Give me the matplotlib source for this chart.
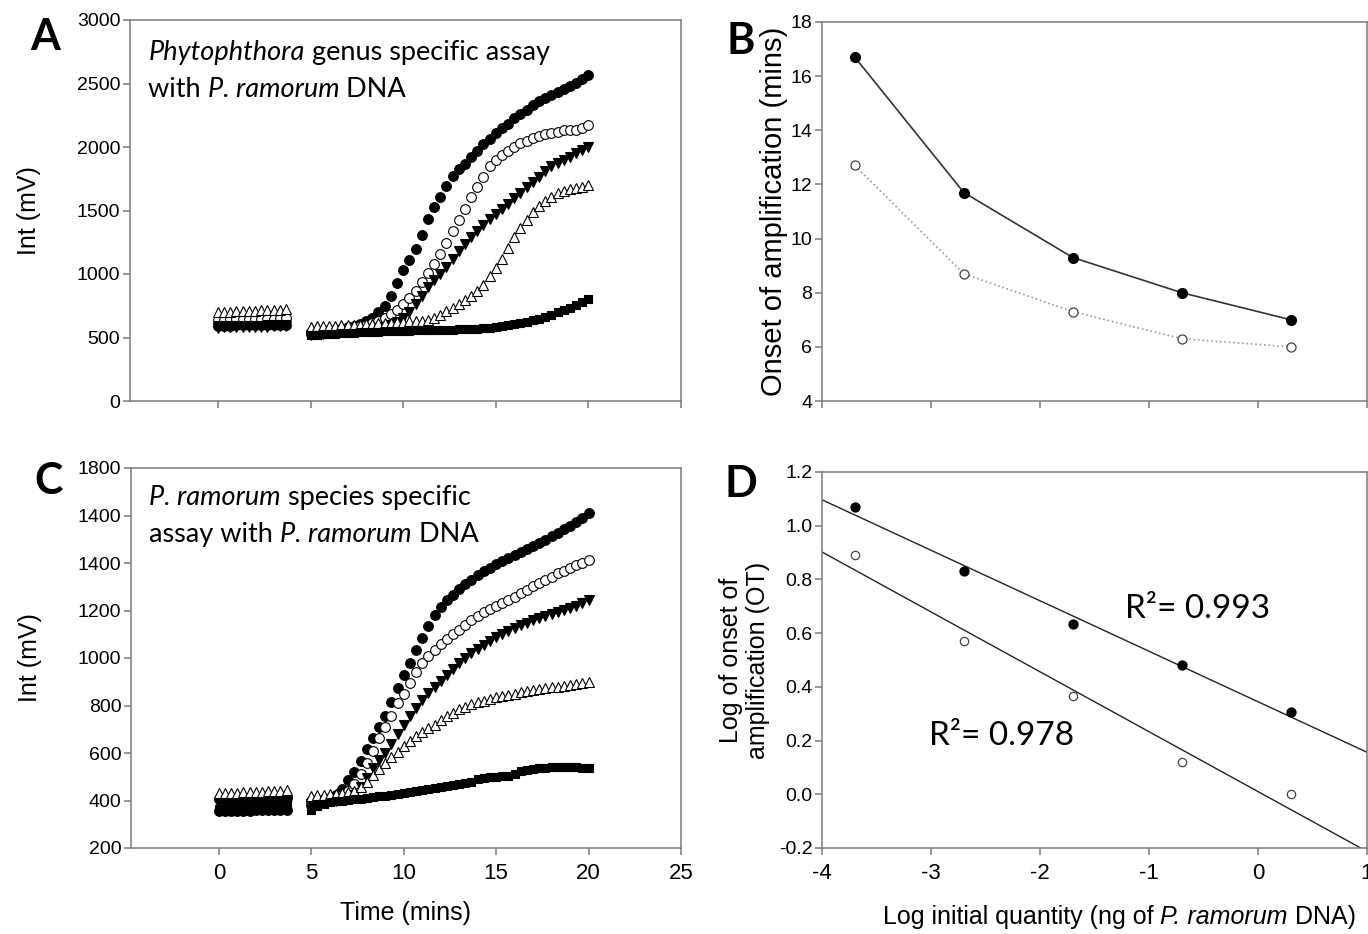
import numpy as np
import matplotlib
matplotlib.use("Agg")
import matplotlib.pyplot as plt
import matplotlib.transforms as mtransforms

plt.rcParams['font.family'] = ['Liberation Sans Narrow', 'Liberation Sans', 'DejaVu Sans']
NOTE_FONT = ['Lato', 'DejaVu Sans']

# sampling times (mins): pre-read block and main run, one reading every 20 s
t_pre = np.arange(12) / 3.0
t_run = 5 + np.arange(46) / 3.0

# ---- panel A: Phytophthora genus assay (mV) ----
a_pre_fc = [590, 592, 594, 595, 596, 597, 598, 599, 600, 600, 601, 602]
a_pre_oc = [640, 641, 642, 643, 644, 645, 646, 647, 648, 649, 650, 650]
a_pre_dt = [578, 579, 580, 581, 582, 583, 584, 585, 586, 587, 588, 589]
a_pre_ut = [700, 702, 704, 706, 708, 710, 712, 714, 716, 718, 720, 722]
a_pre_sq = [595, 596, 597, 598, 599, 600, 601, 602, 603, 604, 605, 606]

a_fc = [525, 530, 540, 550, 560, 570, 580, 590, 610, 630, 655, 700, 750, 830, 930, 1030,
        1110, 1200, 1310, 1430, 1525, 1610, 1690, 1770, 1830, 1870, 1920, 1970, 2020, 2065,
        2110, 2150, 2185, 2225, 2260, 2295, 2330, 2360, 2385, 2410, 2430, 2455, 2480, 2505,
        2535, 2565]
a_oc = [545, 548, 552, 556, 560, 565, 570, 578, 588, 598, 612, 630, 655, 685, 720, 760,
        810, 870, 940, 1005, 1080, 1160, 1245, 1335, 1425, 1515, 1605, 1685, 1765, 1850,
        1900, 1937, 1970, 2000, 2028, 2050, 2070, 2085, 2100, 2112, 2122, 2130, 2132, 2135,
        2150, 2172]
a_dt = [520, 524, 528, 532, 536, 540, 545, 550, 555, 560, 567, 575, 585, 600, 625, 655,
        700, 760, 830, 895, 955, 1000, 1055, 1115, 1180, 1235, 1290, 1340, 1385, 1430,
        1470, 1510, 1555, 1600, 1640, 1685, 1725, 1765, 1810, 1850, 1875, 1900, 1925, 1950,
        1975, 2000]
a_ut = [585, 588, 590, 592, 594, 596, 598, 600, 602, 605, 608, 611, 614, 617, 620, 623,
        626, 629, 632, 640, 655, 680, 705, 735, 765, 795, 830, 865, 915, 985,
        1050, 1115, 1205, 1290, 1360, 1425, 1485, 1535, 1575, 1610, 1640, 1655, 1668, 1678,
        1688, 1697]
a_sq = [520, 523, 526, 529, 531, 534, 536, 538, 540, 542, 544, 546, 548, 550, 552, 553,
        555, 556, 557, 558, 559, 560, 561, 562, 563, 565, 567, 570, 573, 577,
        582, 588, 595, 603, 612, 622, 635, 648, 663, 680, 697, 715, 735, 755,
        778, 800]

# ---- panel C: P. ramorum species assay (mV) ----
c_pre_fc = [355, 355, 356, 356, 357, 357, 358, 358, 359, 359, 360, 360]
c_pre_oc = [405, 405, 406, 406, 407, 407, 408, 408, 409, 409, 410, 410]
c_pre_dt = [385, 386, 387, 388, 389, 390, 391, 392, 393, 394, 395, 396]
c_pre_ut = [430, 431, 432, 433, 434, 435, 436, 437, 438, 440, 442, 445]
c_pre_sq = [365, 366, 367, 368, 369, 370, 371, 372, 373, 380, 385, 390]

c_fc = [380, 390, 400, 410, 425, 450, 485, 520, 565, 615, 665, 710, 755, 815, 875, 930,
        980, 1035, 1085, 1135, 1180, 1215, 1245, 1265, 1290, 1310, 1330, 1348, 1365, 1380,
        1395, 1408, 1420, 1432, 1445, 1458, 1470, 1483, 1497, 1512, 1527, 1542, 1557, 1573,
        1590, 1610]
c_oc = [400, 403, 406, 410, 415, 425, 440, 470, 510, 560, 610, 665, 710, 755, 810, 850,
        895, 940, 980, 1010, 1035, 1058, 1078, 1100, 1120, 1140, 1158, 1175, 1192, 1208,
        1220, 1232, 1245, 1258, 1272, 1287, 1302, 1316, 1330, 1343, 1356, 1368, 1380, 1392,
        1402, 1413]
c_dt = [385, 388, 392, 396, 400, 405, 412, 425, 455, 495, 535, 570, 602, 640, 682, 720,
        755, 790, 822, 852, 880, 905, 930, 955, 978, 1000, 1020, 1038, 1055, 1072,
        1088, 1102, 1115, 1126, 1137, 1148, 1158, 1167, 1176, 1185, 1194, 1202, 1211, 1220,
        1232, 1244]
c_ut = [420, 422, 424, 426, 428, 431, 434, 438, 455, 480, 508, 534, 560, 584, 606, 628,
        650, 670, 688, 704, 720, 737, 755, 770, 784, 795, 805, 814, 821, 828,
        835, 840, 845, 850, 855, 860, 864, 868, 872, 876, 880, 884, 888, 892,
        896, 900]
c_sq = [360, 375, 385, 392, 396, 399, 402, 405, 408, 411, 414, 417, 420, 424, 428, 432,
        436, 440, 444, 448, 452, 456, 460, 464, 468, 472, 478, 490, 495, 498,
        500, 502, 505, 510, 525, 530, 534, 536, 538, 540, 540, 540, 540, 540,
        538, 538]
c_ytick_labels = ['200', '400', '600', '800', '1000', '1200', '1400', '1400', '1800']

# ---- panels B and D: onset of amplification vs log quantity ----
log_qty = np.log10([0.0002, 0.002, 0.02, 0.2, 2.0])
onset_genus = [16.7, 11.7, 9.3, 8.0, 7.0]
onset_species = [12.7, 8.7, 7.3, 6.3, 6.0]
log_ot_genus = [1.07, 0.83, 0.635, 0.48, 0.305]
log_ot_species = [0.89, 0.57, 0.365, 0.12, 0.0]

W, H = 1368, 934
fig = plt.figure(figsize=(W / 100, H / 100), dpi=100)

def px_axes(left, top, right, bottom):
    return fig.add_axes([left / W, 1 - bottom / H, (right - left) / W, (bottom - top) / H])

axA = px_axes(130, 20, 681, 401)
axC = px_axes(131, 468, 681, 848)
axB = px_axes(822, 22, 1367, 401)
axD = px_axes(822, 472, 1367, 848)

SPINE = '#7a7a7a'
for ax in (axA, axB, axC, axD):
    for s in ax.spines.values():
        s.set_color(SPINE)
        s.set_linewidth(1.1)
    ax.tick_params(direction='out', length=5, width=1.1, color=SPINE,
                   labelsize=14, labelcolor='black', pad=2)


def curves(ax, pre, run):
    styles = [dict(marker='o', mfc='black', ms=7.0),
              dict(marker='o', mfc='white', ms=7.0),
              dict(marker='v', mfc='black', ms=7.8),
              dict(marker='^', mfc='white', ms=7.8),
              dict(marker='s', mfc='black', ms=6.2)]
    for p, r, st in zip(pre, run, styles):
        for tt, vv in ((t_pre, p), (t_run, r)):
            ax.plot(tt, vv, ls='none', mec='black', mew=0.8, **st)


def rich(ax, x, y, parts, size, transform):
    r = fig.canvas.get_renderer()
    tr = transform
    for s, style in parts:
        txt = ax.text(x, y, s, transform=tr, fontsize=size, style=style,
                      family=NOTE_FONT, va='baseline', ha='left')
        txt.draw(r)
        ex = txt.get_window_extent(r)
        tr = mtransforms.offset_copy(txt.get_transform(), x=ex.width, units='dots')


# panel A
curves(axA, [a_pre_fc, a_pre_oc, a_pre_dt, a_pre_ut, a_pre_sq],
       [a_fc, a_oc, a_dt, a_ut, a_sq])
axA.set_xlim(-4.75, 25)
axA.set_ylim(0, 3000)
axA.set_xticks([0, 5, 10, 15, 20, 25])
axA.set_xticklabels([])
axA.set_yticks(np.arange(0, 3001, 500))
axA.set_ylabel('Int (mV)', fontsize=18, labelpad=26)

# panel C
curves(axC, [c_pre_fc, c_pre_oc, c_pre_dt, c_pre_ut, c_pre_sq],
       [c_fc, c_oc, c_dt, c_ut, c_sq])
axC.set_xlim(-4.75, 25)
axC.set_ylim(200, 1800)
axC.set_xticks([0, 5, 10, 15, 20, 25])
axC.set_yticks(np.arange(200, 1801, 200))
axC.set_yticklabels(c_ytick_labels)
axC.tick_params(axis='x', labelsize=16, pad=6)
axC.set_ylabel('Int (mV)', fontsize=18, labelpad=26)
axC.set_xlabel('Time (mins)', fontsize=18, labelpad=12)

# panel B
axB.plot(log_qty, onset_genus, color='#333333', lw=1.2, marker='o', ms=7,
         mfc='black', mec='black')
axB.plot(log_qty, onset_species, color='#999999', lw=1.2, ls=':', marker='o', ms=6.5,
         mfc='white', mec='#444444', mew=0.9)
axB.set_xlim(-4, 1)
axB.set_ylim(4, 18)
axB.set_xticks([-4, -3, -2, -1, 0, 1])
axB.set_xticklabels([])
axB.set_yticks(np.arange(4, 19, 2))
axB.set_ylabel('Onset of amplification (mins)', fontsize=21, labelpad=2)

# panel D
xfit = np.array([-4.0, 1.0])
for vals, face in ((log_ot_genus, 'black'), (log_ot_species, 'white')):
    slope, icpt = np.polyfit(log_qty, vals, 1)
    axD.plot(xfit, slope * xfit + icpt, color='#222222', lw=1.0)
    axD.plot(log_qty, vals, ls='none', marker='o', ms=6.5 if face == 'black' else 6,
             mfc=face, mec='black' if face == 'black' else '#444444', mew=0.9)
axD.set_xlim(-4, 1)
axD.set_ylim(-0.2, 1.2)
axD.set_xticks([-4, -3, -2, -1, 0, 1])
axD.set_xticklabels(['-4', '-3', '-2', '-1', '0', '1'])
axD.set_yticks(np.arange(-0.2, 1.21, 0.2))
axD.set_yticklabels(['-0.2', '0.0', '0.2', '0.4', '0.6', '0.8', '1.0', '1.2'])
axD.tick_params(axis='x', labelsize=16, pad=6)
axD.set_ylabel('Log of onset of\namplification (OT)', fontsize=18, labelpad=6,
               linespacing=1.2)
axD.text(-1.22, 0.655, 'R²= 0.993', fontsize=24, family=NOTE_FONT, va='baseline')
axD.text(-3.02, 0.185, 'R²= 0.978', fontsize=24, family=NOTE_FONT, va='baseline')

# annotations with italic names
rich(axA, 0.033, 0.895, [('Phytophthora', 'italic'), (' genus specific assay', 'normal')],
     19.5, axA.transAxes)
rich(axA, 0.033, 0.797, [('with ', 'normal'), ('P. ramorum', 'italic'), (' DNA', 'normal')],
     19.5, axA.transAxes)
rich(axC, 0.033, 0.903, [('P. ramorum', 'italic'), (' species specific', 'normal')],
     19.5, axC.transAxes)
rich(axC, 0.033, 0.805, [('assay with ', 'normal'), ('P. ramorum', 'italic'), (' DNA', 'normal')],
     19.5, axC.transAxes)

# x label of D, mixed style
r = fig.canvas.get_renderer()
parts = [('Log initial quantity (ng of ', 'normal'), ('P. ramorum', 'italic'), (' DNA)', 'normal')]
widths = []
for s, st in parts:
    tmp = fig.text(0, 0, s, fontsize=18, style=st)
    widths.append(tmp.get_window_extent(r).width)
    tmp.remove()
x0 = 1368 - sum(widths) - 12
for (s, st), w in zip(parts, widths):
    fig.text(x0 / W, 1 - 924 / H, s, fontsize=18, style=st, va='baseline')
    x0 += w

# panel letters
for letter, x, y in (('A', 30, 50), ('B', 726, 54), ('C', 34, 494), ('D', 724, 497)):
    fig.text(x / W, 1 - y / H, letter, fontsize=31, fontweight='bold',
             family=NOTE_FONT, va='baseline')

fig.savefig('out.png', dpi=100)
